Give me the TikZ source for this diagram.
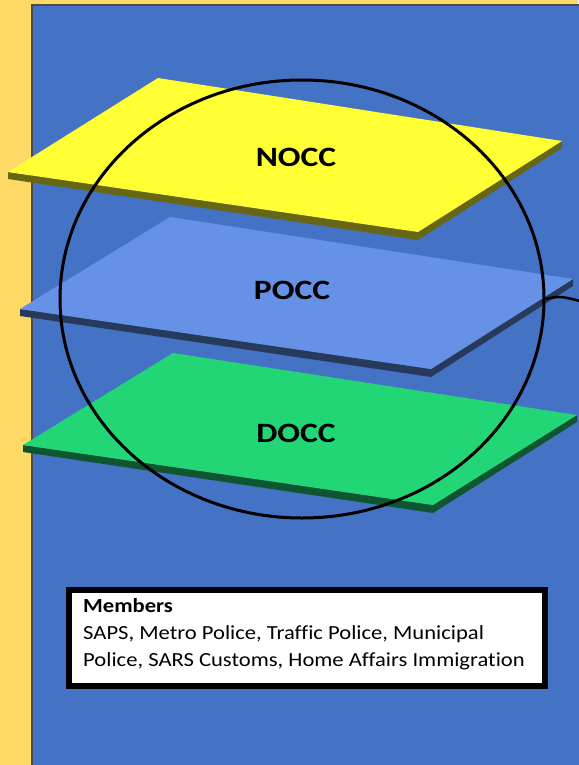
\documentclass[tikz,border=0pt]{standalone}
\usepackage{fontspec}
\setmainfont{Carlito}[Ligatures=NoCommon]
\usetikzlibrary{calc, shapes.geometric}
\definecolor{pagebg}{HTML}{FFD966}
\definecolor{panel}{HTML}{4472C4}
\definecolor{noccc}{HTML}{FFFF33}
\definecolor{poccc}{HTML}{6592E6}
\definecolor{doccc}{HTML}{22D676}
\tikzstyle{level} = [font=\bfseries\fontsize{28}{28}\selectfont, inner sep=0pt, xscale=1.2]
\tikzstyle{members} = [font=\fontsize{20}{27}\selectfont, inner sep=0pt, anchor=north west, align=left, xscale=1.13]
% one plate: colour, top, right, bottom, left corner
\newcommand{\drawplate}[5]{
    \fill[#1!40!black] (#5) -- ($(#5)+(0,7)$) -- ($(#4)+(0,8)$) -- ($(#3)+(0,7)$) -- (#3) -- (#4) -- cycle;
    \fill[#1] (#2) -- (#3) -- (#4) -- (#5) -- cycle;
}

\begin{document}
\begin{tikzpicture}[x=1pt, y=-1pt]
    \useasboundingbox (0,0) rectangle (578,765);
    \fill[pagebg] (0,0) rectangle (578,765);
    \draw[fill=panel, draw=black!70, line width=1.5pt] (32,5) rectangle (600,790);

    \drawplate{noccc}{158,78}{562,141}{418,232}{8,172}
    \drawplate{poccc}{170,217}{573,279}{431,369}{20,309}
    \drawplate{doccc}{173,353}{577,415}{433,505}{23,445}

    \node[level] (nocc) at (296,157) {NOCC};
    \node[level] (pocc) at (292,290) {POCC};
    \node[level] (docc) at (296,433) {DOCC};

    \node[draw, line width=3pt, ellipse, minimum width=484pt, minimum height=438pt, inner sep=0pt] (ring) at (302,299) {};
    \coordinate (out) at (580,301);
    \draw[line width=2.5pt] (ring.east) .. controls (560,296) .. (out);

    \draw[fill=white, line width=6pt] (69,590) rectangle (545,686);
    \node[members] (list) at (83,598) {\textbf{Members}\\SAPS, Metro Police, Traffic Police, Municipal\\Police, SARS Customs, Home Affairs Immigration};
\end{tikzpicture}
\end{document}
